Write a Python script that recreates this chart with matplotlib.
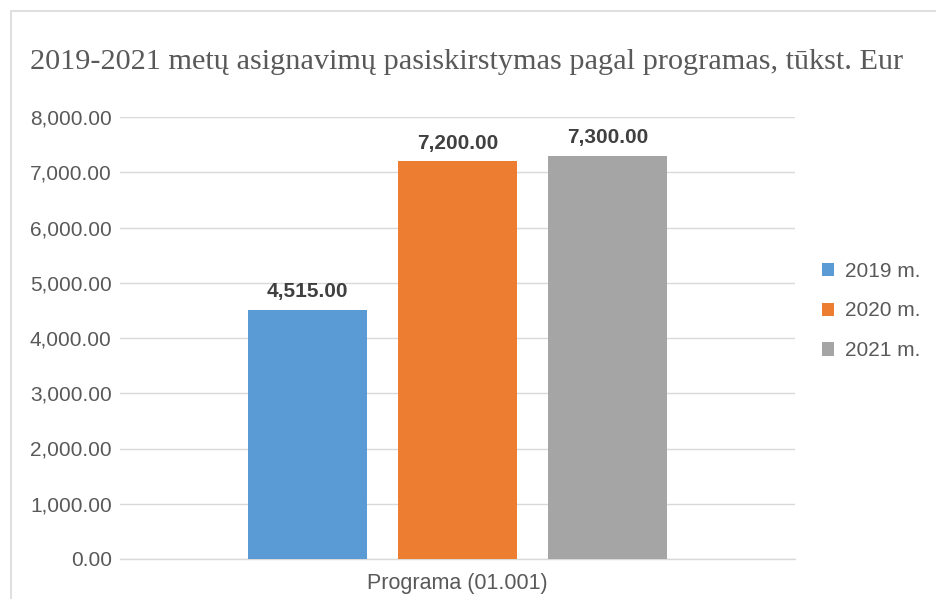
import matplotlib
matplotlib.use("Agg")
import matplotlib.pyplot as plt
from matplotlib.patches import Rectangle
from matplotlib.ticker import FuncFormatter

title = "2019-2021 metų asignavimų pasiskirstymas pagal programas, tūkst. Eur"
category = "Programa (01.001)"
series_names = ["2019 m.", "2020 m.", "2021 m."]
values = [4515.00, 7200.00, 7300.00]
colors = ["#5B9BD5", "#ED7D31", "#A5A5A5"]
yticks = [0, 1000, 2000, 3000, 4000, 5000, 6000, 7000, 8000]

W, H = 937, 599
fig = plt.figure(figsize=(W / 100, H / 100), dpi=100)
fig.patch.set_facecolor("white")

# outer chart border (right and bottom edges fall outside the image)
fig.patches.append(Rectangle((11 / W, -0.05), 1.0, 1 - 11 / H + 0.05,
                             transform=fig.transFigure, fill=False,
                             edgecolor="#D9D9D9", linewidth=1.2))

left, right, top, bottom = 120, 795, 117, 559
ax = fig.add_axes([left / W, 1 - bottom / H, (right - left) / W, (bottom - top) / H])

pitch = 150 / 675
width = 119 / 675
offsets = [-pitch, 0, pitch]
bars = []
for off, v, c, n in zip(offsets, values, colors, series_names):
    b = ax.bar(off, v, width=width, color=c, label=n, zorder=3)
    bars.append(b)
    ax.annotate(f"{v:,.2f}", xy=(off, v), xytext=(0, 6), textcoords="offset points",
                ha="center", va="bottom",
                fontsize=15, fontweight="bold", color="#404040",
                family="Liberation Sans")

ax.set_xlim(-0.5, 0.5)
ax.set_ylim(0, 8000)
ax.set_yticks(yticks)
ax.yaxis.set_major_formatter(FuncFormatter(lambda v, p: f"{v:,.2f}"))
ax.set_xticks([0])
ax.set_xticklabels([category])
ax.grid(axis="y", color="#D9D9D9", linewidth=1, zorder=0)
for s in ["top", "right", "left"]:
    ax.spines[s].set_visible(False)
ax.spines["bottom"].set_color("#D9D9D9")
ax.spines["bottom"].set_linewidth(1)
ax.tick_params(axis="both", length=0, colors="#595959", labelsize=15)
ax.tick_params(axis="y", pad=6)
ax.tick_params(axis="x", pad=10)
for lab in ax.get_xticklabels() + ax.get_yticklabels():
    lab.set_family("Liberation Sans")
for lab in ax.get_xticklabels():
    lab.set_fontsize(15.5)

fig.text(466.5 / W, 1 - 62 / H, title, ha="center", va="center",
         fontsize=21.8, color="#595959", family="Liberation Serif")

leg = fig.legend(handles=[b[0] for b in bars], labels=series_names,
                 loc="center left", bbox_to_anchor=(803 / W, 1 - 311 / H),
                 frameon=False, handlelength=0.6, handleheight=0.6,
                 labelspacing=1.0, handletextpad=0.5,
                 prop={"family": "Liberation Sans", "size": 15})
for t in leg.get_texts():
    t.set_color("#595959")

fig.savefig("out.png", dpi=100)
